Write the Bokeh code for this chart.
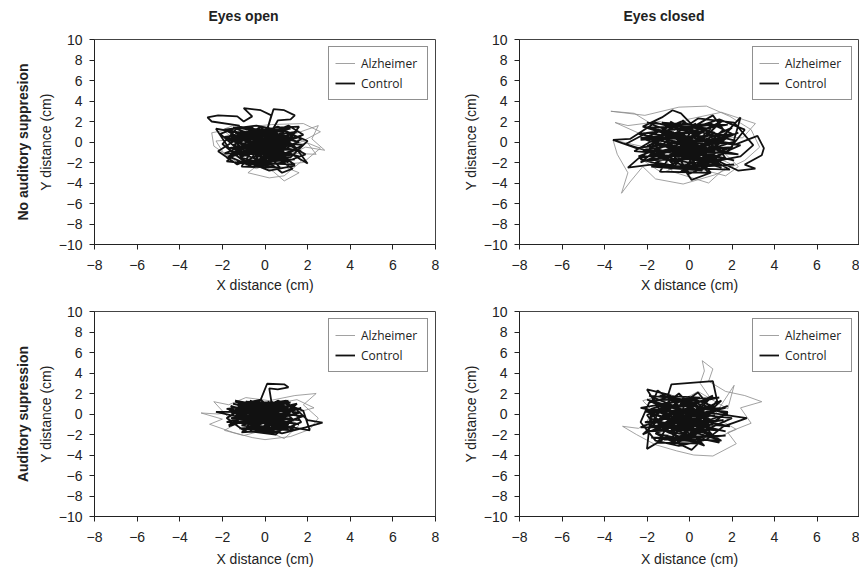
from bokeh.plotting import figure
from bokeh.models import Title, Legend, LegendItem, FixedTicker
from bokeh.layouts import column, row
from bokeh.embed import file_html
from bokeh.resources import INLINE

# ---------------- ticks / labels ----------------
x_ticks = [-8, -6, -4, -2, 0, 2, 4, 6, 8]
x_tick_labels = ["\u22128", "\u22126", "\u22124", "\u22122", "0", "2", "4", "6", "8"]
y_ticks = [-10, -8, -6, -4, -2, 0, 2, 4, 6, 8, 10]
y_tick_labels = ["\u221210", "\u22128", "\u22126", "\u22124", "\u22122", "0", "2", "4", "6", "8", "10"]
col_titles = ["Eyes open", "Eyes closed"]
row_titles = ["No auditory suppresion", "Auditory supression"]
series_names = ["Alzheimer", "Control"]
x_label = "X distance (cm)"
y_label = "Y distance (cm)"

# ---------------- traces (cm) ----------------
# Panel 1: eyes open, no auditory suppression
p1_ctrl_x = [0, 0.8, -0.5, -1.6, -0.9, 0.6, 1.5, 0.4, -1.2, -2.1, -1.4, 0.2, 1.8, 1.1, -0.3, -1.7, -0.6, 0.9, 1.9, 0.7,
             -0.8, -1.9, -0.4, 1.0, 2.0, 1.2, -0.2, -1.3, -2.2, -1.0, 0.5, 1.6, 0.9, -0.5, -1.5, -0.7, 0.3, 1.4, 0.2, -1.1,
             -2.0, -1.2, -2.5, -2.7, -2.2, -1.3, -1.0, -0.6, -1.0, -0.2, 0.3, 0.1, 0.4, 0.9, 1.4, 1.2, 0.6, 0.3,
             -0.9, -1.8, -0.4, 1.1, 2.0, 1.3, -0.1, -1.5, -2.3, -1.6, -0.3, 0.8, 1.7, 0.6, -0.8, -1.2, 0.0, 1.0,
             0.0, -1.0, 0.4, 1.3, 0.8, 0.2, -0.6, 0.5, 1.5, 0.2, -0.5, 0]
p1_ctrl_y = [0, 0.6, 1.2, 0.4, -1.0, -1.8, -0.6, 0.9, 1.5, 0.8, -0.5, -0.3, 0.7, 1.6, 0.4, -1.4, -2.4, -2.0, -1.2, 0.2,
             0.0, 1.2, 1.6, 1.0, 0.1, -1.5, -1.2, -2.2, -0.9, 0.7, 1.4, 1.5, -0.4, -0.8, 0.2, 1.1, -0.1, -2.3, -2.8, -1.7,
             -0.2, 1.6, 2.0, 2.4, 2.6, 2.5, 2.0, 2.5, 3.3, 3.1, 2.6, 1.2, 3.2, 3.1, 2.6, 2.2, 2.1, 1.0,
             -0.3, -1.9, -2.2, -1.0, -2.1, -0.2, 0.8, 1.0, 1.3, -0.9, -1.7, -0.9, 0.3, 1.5, 0.5, -1.3, -0.6, 0.4,
             1.0, -0.2, -1.4, -2.6, -3.0, -2.0, -1.0, 0.1, 1.0, 0.6, -0.4, 0]
p1_core_x = [-1.4, 1.2, -1.7, 1.5, -1.1, 1.3, -1.6, 0.9, -0.8, 1.4, -1.3, 0.4, -0.2, 1.7, -1.9, 0.6, -1.0, 1.6, -0.6, 0.2,
             -1.5, 1.1, -0.4, -1.8, 0.8, -0.3, 1.8, -1.2, 0.5, -0.7, 1.0, -1.6, 0.3, -0.9, 1.5, -0.1, -1.4, 1.2, -0.5, 0.7,
             -1.1, 0.0, 1.3, -1.7, 0.9, -0.2, -1.3, 1.6, -0.8, 0.4, -1.9, 0.1, 1.1, -0.6, 1.4, -1.0, 0.6, -1.5, 0.8, -0.3,
             1.7, -1.2, 0.2, -0.4, 1.0, -1.8, 0.5, -0.9, 1.2, 0]
p1_core_y = [0.9, 1.3, 0.1, 0.5, -0.6, -0.2, -1.2, -1.1, -2.1, -1.7, -1.9, -2.4, -0.5, -0.9, 0.5, 1.2, 1.3, 0.0, -1.5, 1.3,
             -0.3, -2.0, 0.8, -1.6, 0.6, -2.3, -0.3, 0.4, -1.6, 1.5, -0.5, 1.1, 0.2, -1.2, 1.1, -1.9, -0.9, -1.3, 0.3, -2.5,
             -2.4, 1.1, 0.4, -0.6, -0.8, 1.5, 0.0, -1.4, -0.4, -1.0, -1.1, 0.5, 1.5, -2.0, -2.2, 0.8, -0.2, 1.4, 1.0, -1.1,
             0.6, -1.5, -2.2, 0.0, -1.8, 0.3, 0.8, -0.8, 0.0, 0]
p1_alz_x = [0.2, 1.4, 2.5, 2.2, 2.8, 1.9, 0.8, -0.4, -1.3, -2.4, -2.5, -1.2, 0.3, 1.8, 2.6, 1.5, 0.1, -1.0, -1.8, -0.6,
            0.9, 1.7, 0.9, 0.2, -0.8, -0.3, 1.0, 1.6, 0.9, 0.4, -0.5, -1.9, -2.3, -1.0, 0.5, 2.0, 2.4, 1.2, -0.2, -1.5,
            -2.0, -0.8, 0.7, 1.8, 2.6, 1.4, 0.0]
p1_alz_y = [-0.2, 0.8, 1.6, 0.3, -0.8, -0.5, -1.6, -2.6, -2.0, -0.4, 0.9, 1.4, 1.7, 1.8, 1.0, -0.2, -1.1, -0.6, 0.5, 1.2,
            0.2, -1.9, -3.3, -3.5, -3.0, -2.2, -2.5, -3.0, -3.8, -2.9, -1.8, -1.2, 0.1, 0.3, -0.5, -0.1, -1.2, -1.1, 0.6, 1.6,
            1.2, -0.8, -2.2, -2.0, -0.6, 0.4, 0.2]

# Panel 2: eyes closed, no auditory suppression
p2_ctrl_x = [0, 1.2, -0.4, -1.9, -1.2, 0.5, 1.8, 2.6, 1.4, -0.2, -1.6, -2.8, -3.6, -2.5, -1.0, 0.3, 1.0, 0.1, -0.3, -1.8,
             -2.9, -2.4, -0.8, 0.7, 2.2, 3.2, 3.5, 3.4, 2.6, 3.1, 2.3, 1.4, 0.2, -1.1, -2.2, -1.3, -0.8, -0.4, 0.2, 1.1,
             1.6, 0.6, -0.9, -2.1, -3.0, -2.0, -0.5, 1.0, 2.0, 1.0, -0.9, -1.6, -0.6, 0.9, 2.4, 3.0, 2.1, 0.4, -1.1, -0.1,
             1.3, 0.3, -1.4, -2.6, -1.7, -0.3, 0.8, 1.7, 0.0, -0.6, 0.5, -0.2, -1.2, -2.3, -1.0, 0.2, 1.5, 2.4, 2.0, 0.9,
             -0.4, 0]
p2_ctrl_y = [0, 0.9, 2.0, 0.6, -1.4, -2.3, -0.9, 1.2, 2.2, 1.1, 1.9, 0.3, 0.2, -0.6, -0.2, -1.2, -3.0, -3.7, -2.5, -2.2,
             -2.5, -1.6, -0.9, 0.3, -0.2, 0.6, -0.6, -1.3, -2.2, -2.6, -2.8, -1.9, -0.5, 0.8, 1.5, 2.4, 3.1, 2.8, 1.5, 2.6,
             1.2, -0.6, -1.8, -0.8, -0.2, 0.9, 0.4, -0.8, 0.8, 1.8, 1.4, -0.3, -2.6, -2.0, -1.4, -0.3, 1.9, 2.3, 0.2, -1.6,
             -0.3, 0.7, -1.1, -0.9, 0.2, -0.2, 1.2, -1.6, -3.1, -1.3, 0.2, 1.9, 1.0, -1.7, -2.4, -1.0, 0.4, 2.4, -0.5, -1.3,
             0.5, 0]
p2_core_x = [-2.0, 1.8, -2.3, 2.2, -1.6, 2.0, -2.1, 1.3, -1.0, 2.1, -1.8, 0.6, -0.3, 2.3, -2.4, 0.8, -1.3, 2.2, -0.8, 0.3,
             -2.0, 1.5, -0.5, -2.3, 1.1, -0.4, 2.4, -1.6, 0.7, -0.9, 1.4, -2.1, 0.4, -1.2, 2.0, -0.1, -1.8, 1.6, -0.6, 0.9,
             -1.4, 0.0, 1.8, -2.2, 1.2, -0.3, -1.7, 2.1, -1.0, 0.5, -2.4, 0.1, 1.5, -0.8, 1.9, -1.3, 0.8, -2.0, 1.0, -0.4,
             2.3, -1.6, 0.3, -0.5, 1.3, -2.3, 0.6, -1.2, 1.6, 0]
p2_core_y = [1.4, 1.7, 0.2, 0.8, -1.0, -0.5, -1.8, -1.6, -2.6, -2.2, -2.4, -2.8, -0.8, -1.2, 0.8, 1.6, 1.9, 0.1, -1.9, 1.8,
             -0.4, -2.5, 1.0, -2.0, 0.8, -2.9, -0.3, 0.5, -2.0, 2.0, -0.7, 1.5, 0.3, -1.6, 1.4, -2.4, -1.2, -1.7, 0.4, -3.0,
             -2.9, 1.5, 0.5, -0.8, -1.0, 2.1, 0.0, -1.8, -0.5, -1.3, -1.4, 0.6, 2.0, -2.5, -2.7, 1.1, -0.3, 1.9, 1.3, -1.4,
             0.9, -2.0, -2.7, 0.0, -2.2, 0.4, 1.0, -1.0, 0.1, 0]
p2_alz_x = [0, -1.2, -2.6, -3.7, -2.1, -0.5, 0.8, 1.9, 2.9, 3.3, 2.6, 1.2, -0.3, -1.6, -2.2, -2.8, -3.2, -2.9, -3.4, -3.6,
            -2.3, -1.0, 0.6, 1.7, 2.3, 1.4, 0.2, -1.4, -2.9, -3.5, -2.0, -0.6, 1.0, 2.5, 3.1, 1.5, -0.1, -1.5, -0.8, 0.9,
            1.9, 0.7, -0.9, -2.4, -1.3, 0.3, 1.8, 0.3]
p2_alz_y = [0, 1.0, 2.8, 3.0, 2.6, 3.4, 3.5, 2.5, 1.2, -0.5, -1.8, -3.2, -4.1, -3.6, -2.4, -3.9, -5.0, -3.0, -1.2, 0.2,
            -0.4, -1.5, -2.7, -3.3, -2.4, -0.6, 0.9, 2.0, 1.6, 1.9, 0.5, -0.7, 0.6, 0.4, 1.8, 2.9, 2.2, -0.3, -2.9, -4.0,
            -2.1, -1.0, 0.3, -1.5, -3.0, -1.8, 1.0, 0.3]

# Panel 3: eyes open, auditory suppression
p3_ctrl_x = [0, 0.9, -0.5, -1.5, -0.8, 0.6, 1.6, 0.7, -0.9, -1.8, -1.0, 0.3, 1.4, 2.0, 2.7, 1.9, 0.8, -0.4, -1.3, -0.2,
             0.1, 0.9, 1.1, 0.6, 0.2, 0.3, 1.2, 0.2, -1.2, -1.6, -0.6, 0.8, 1.5, 0.4, -0.7, 0.5, 1.1, -0.1, -1.4, -0.3,
             1.0, 1.7, 0.9, -0.5, -1.7, -0.9, 0.5, 1.3, 0.1, -1.1, -0.3, 0.7, -0.6, -1.3, 0.0, 1.0, 2.1, 1.8, 0.6, -0.4,
             -2.3, -1.2, 0.3, 0]
p3_ctrl_y = [0, 0.8, 1.2, 0.3, -1.0, -1.4, -0.3, 1.1, 0.7, -0.4, -1.6, -0.6, 0.6, -0.6, -0.85, -1.3, -1.9, -1.2, 0.9, 1.4,
             2.95, 2.9, 2.6, 2.4, 2.5, 1.2, 0.2, -0.9, -0.5, 0.8, 0.1, -0.2, 1.0, 0.5, -1.7, -2.0, -1.0, 0.3, 1.3, 0.9,
             1.3, -0.8, -1.5, -0.4, -1.1, 0.1, 0.9, -0.5, -1.6, -1.8, -0.8, 0.3, 1.0, -0.1, -0.3, -1.2, -1.6, 0.3, 1.3, 0.2,
             0.2, -0.3, -0.5, 0]
p3_core_x = [-1.3, 1.2, -1.6, 1.4, -1.0, 1.3, -1.5, 0.9, -0.8, 1.4, -1.2, 0.4, -0.2, 1.6, -1.8, 0.6, -0.9, 1.6, -0.6, 0.2,
             -1.4, 1.1, -0.4, -1.7, 0.8, -0.3, 1.8, -1.1, 0.5, -0.7, 1.0, -1.5, 0.3, -0.9, 1.5, -0.1, -1.3, 1.2, -0.5, 0.7,
             -1.0, 0.0, 1.3, -1.6, 0.9, -0.2, -1.2, 1.6, -0.8, 0.4, -1.8, 0.1, 1.1, -0.6, 1.4, -1.0, 0.6, -1.4, 0.8, -0.3,
             1.7, -1.1, 0.2, -0.4, 1.0, -1.7, 0.5, -0.9, 1.2, 0]
p3_core_y = [0.9, 1.1, 0.1, 0.5, -0.4, -0.1, -0.9, -0.8, -1.5, -1.2, -1.4, -1.7, -0.3, -0.6, 0.5, 1.1, 1.2, 0.1, -1.1, 1.2,
             -0.2, -1.5, 0.7, -1.2, 0.6, -1.7, -0.2, 0.4, -1.2, 1.3, -0.3, 1.0, 0.2, -0.9, 1.0, -1.4, -0.7, -0.9, 0.3, -1.8,
             -1.7, 1.0, 0.4, -0.4, -0.6, 1.4, 0.0, -1.0, -0.3, -0.7, -0.8, 0.5, 1.3, -1.4, -1.6, 0.8, -0.1, 1.2, 0.9, -0.8,
             0.6, -1.1, -1.5, 0.0, -1.3, 0.3, 0.8, -0.6, 0.0, 0]
p3_alz_x = [0, -1.2, -2.2, -3.0, -2.0, -2.6, -1.5, -0.6, 0.0, 1.2, 2.1, 2.5, 1.8, 2.4, 1.4, 0.2, -0.9, -1.7, -2.4, -1.6,
            -0.3, 0.9, 1.6, 0.5, -0.8, -1.9, -1.0, 0.1, 1.2, 2.3, 1.5, 0.0, -1.4, -0.5, 0.8, 0.0]
p3_alz_y = [0, 0.3, 0.0, 0.1, -0.5, -1.0, -1.8, -2.3, -2.5, -2.2, -1.5, -0.4, 0.9, 2.0, 1.8, 1.3, 1.6, 0.9, 1.2, -0.6,
            -1.3, -2.4, -1.1, 0.4, -0.3, -1.6, -2.1, -1.5, 0.0, 0.6, 1.4, 0.8, 0.2, -0.9, -0.5, 0.0]

# Panel 4: eyes closed, auditory suppression
p4_ctrl_x = [-0.3, -1.2, -2.0, -1.5, 0.0, 1.1, 0.3, -0.9, -1.9, -2.3, -1.6, -0.5, 0.8, 1.6, 2.7, 1.0, -0.4, -1.4, -0.6, 0.7,
             1.3, 1.1, -0.85, -1.0, -2.0, -1.3, -0.1, 0.9, 0.1, -1.1, -2.0, -1.8, -0.6, 0.6, 1.8, 0.8, -0.5, -1.6, -0.8, 0.4,
             1.2, 0.0, -1.2, -1.9, -1.0, 0.2, 1.4, 0.3, -1.0, -1.9, -0.9, 0.1, 1.0, 0.4, -0.5, -1.5, -1.7, -0.4, 0.7, -0.6,
             -1.4, -0.3]
p4_ctrl_y = [-0.3, 0.7, -0.1, -1.5, -2.1, -0.9, 0.9, 1.7, 1.1, -0.8, -2.6, -3.1, -2.5, -1.2, -0.4, 0.1, 0.4, -0.7, -1.5, -0.3,
             1.3, 3.2, 2.9, 1.9, 2.4, 0.1, -0.8, -1.9, -3.5, -2.3, -3.4, 0.5, 1.3, 0.5, 0.2, -1.3, -0.5, -1.9, -2.7, -1.5,
             0.7, 1.6, 0.9, -1.3, -0.9, 0.0, -2.8, -2.3, -1.3, 0.1, 0.3, -1.2, 0.6, 2.1, 0.8, 2.3, 1.3, -0.6, -3.1, -2.1,
             -1.1, -0.3]
p4_core_x = [-1.9, 1.4, -2.1, 1.7, -1.5, 1.6, -2.0, 1.0, -1.2, 1.7, -1.8, 0.3, -0.5, 1.9, -2.3, 0.5, -1.4, 1.8, -0.9, 0.0,
             -1.9, 1.2, -0.7, -2.2, 0.8, -0.6, 2.0, -1.6, 0.4, -1.0, 1.1, -2.0, 0.1, -1.3, 1.5, -0.4, -1.8, 1.3, -0.8, 0.6,
             -1.5, -0.3, 1.4, -2.1, 0.9, -0.5, -1.7, 1.7, -1.1, 0.2, -2.3, -0.2, 1.1, -0.9, 1.5, -1.4, 0.5, -1.9, 0.7, -0.6,
             1.8, -1.6, 0.0, -0.7, 1.0, -2.1, 0.3, -1.2, 1.2, -0.3]
p4_core_y = [1.3, 1.6, 0.2, 0.6, -1.0, -0.6, -1.7, -1.5, -2.5, -2.1, -2.3, -2.7, -0.8, -1.2, 0.6, 1.6, 1.8, 0.0, -1.8, 1.7,
             -0.4, -2.4, 0.9, -2.0, 0.7, -2.8, -0.4, 0.4, -1.9, 1.9, -0.7, 1.4, 0.2, -1.5, 1.3, -2.3, -1.1, -1.6, 0.3, -2.9,
             -2.8, 1.4, 0.4, -0.8, -1.0, 2.0, 0.0, -1.7, -0.5, -1.3, -1.3, 0.5, 1.8, -2.4, -2.6, 1.0, -0.3, 1.8, 1.2, -1.3,
             0.8, -1.9, -2.6, 0.0, -2.1, 0.3, 0.9, -0.9, -0.1, -0.3]
p4_alz_x = [0, 1.0, 0.5, 0.7, 0.6, 1.1, 0.9, 1.7, 2.6, 3.4, 2.4, 2.9, 1.8, 2.2, 1.1, 0.2, -0.6, -1.6, -2.5, -3.15,
            -2.4, -1.5, -2.2, -1.0, 0.0, 1.2, 2.2, 1.0, -0.2, -1.3, -2.0, -0.8, 0.4, 1.8, 2.1, 0.9, -0.4, -1.1, 0.0]
p4_alz_y = [0, 1.5, 3.0, 4.2, 5.2, 4.4, 3.2, 2.2, 1.8, 1.2, 0.6, -0.9, -1.8, -2.9, -4.1, -4.0, -3.6, -3.0, -2.0, -1.2,
            -1.4, -0.2, 1.3, 2.0, 1.0, -0.3, -1.5, -2.6, -1.3, -2.2, -0.6, 0.8, 2.2, 0.5, 2.8, -1.0, -2.7, -0.4, 0.0]

panels = [
    dict(ctrl=(p1_ctrl_x + p1_core_x, p1_ctrl_y + p1_core_y), alz=(p1_alz_x, p1_alz_y), col=0, row=0,
         fw=341, fh=205, mbl=94, mbr=8, mbt=39, mbb=56, toff=114, xls=4),
    dict(ctrl=(p2_ctrl_x + p2_core_x, p2_ctrl_y + p2_core_y), alz=(p2_alz_x, p2_alz_y), col=1, row=0,
         fw=340, fh=205, mbl=76, mbr=0, mbt=39, mbb=56, toff=104, xls=4),
    dict(ctrl=(p3_ctrl_x + p3_core_x, p3_ctrl_y + p3_core_y), alz=(p3_alz_x, p3_alz_y), col=0, row=1,
         fw=341, fh=205, mbl=94, mbr=8, mbt=11, mbb=48, toff=0, xls=6),
    dict(ctrl=(p4_ctrl_x + p4_core_x, p4_ctrl_y + p4_core_y), alz=(p4_alz_x, p4_alz_y), col=1, row=1,
         fw=340, fh=205, mbl=76, mbr=0, mbt=11, mbb=48, toff=0, xls=6),
]

FONT = "Liberation Sans"


def make_panel(d):
    title = None
    if d["row"] == 0:
        # second (blank) line lifts the heading above the plot frame
        title = Title(text=col_titles[d["col"]] + "\n ", align="left", offset=d["toff"],
                      text_font=FONT, text_font_size="14px", text_font_style="bold",
                      text_color="#222222", standoff=0)
    p = figure(frame_width=d["fw"], frame_height=d["fh"], x_range=(-8, 8), y_range=(-10, 10),
               output_backend="svg", toolbar_location=None, title=title,
               min_border_left=d["mbl"], min_border_right=d["mbr"],
               min_border_top=d["mbt"], min_border_bottom=d["mbb"])
    p.background_fill_color = "white"
    p.border_fill_color = "white"
    p.outline_line_color = "#444444"
    p.outline_line_width = 1
    p.xgrid.visible = False
    p.ygrid.visible = False

    for ax, ticks, labels, lab in ((p.xaxis, x_ticks, x_tick_labels, x_label),
                                   (p.yaxis, y_ticks, y_tick_labels, y_label)):
        ax.ticker = FixedTicker(ticks=ticks)
        ax.major_label_overrides = {t: s for t, s in zip(ticks, labels)}
        ax.minor_tick_line_color = None
        ax.major_tick_in = 0
        ax.major_tick_out = 5
        ax.axis_line_color = "#222222"
        ax.major_tick_line_color = "#222222"
        ax.major_label_text_font = FONT
        ax.major_label_text_font_size = "14px"
        ax.major_label_text_color = "#222222"
        ax.axis_label = lab
        ax.axis_label_text_font = FONT
        ax.axis_label_text_font_size = "14px"
        ax.axis_label_text_font_style = "normal"
        ax.axis_label_text_color = "#222222"
    p.xaxis.major_label_standoff = 10
    p.xaxis.axis_label_standoff = d["xls"]
    p.yaxis.major_label_standoff = 7
    p.yaxis.axis_label_standoff = 2

    ax_, ay_ = d["alz"]
    cx_, cy_ = d["ctrl"]
    r_alz = p.line(ax_, ay_, line_color="#8a8a8a", line_width=0.8)
    r_ctrl = p.line(cx_, cy_, line_color="#111111", line_width=1.8)

    legend = Legend(items=[LegendItem(label=series_names[0], renderers=[r_alz]),
                           LegendItem(label=series_names[1], renderers=[r_ctrl])],
                    location="top_right", margin=7, padding=6, spacing=0,
                    glyph_width=20, glyph_height=20, label_height=20, label_width=60,
                    label_standoff=6, label_text_font="Open Sans", label_text_font_size="12px",
                    label_text_color="#222222", border_line_color="#222222", border_line_width=1,
                    background_fill_color="white", background_fill_alpha=1.0)
    p.add_layout(legend)

    if d["col"] == 0:
        p.add_layout(Title(text=row_titles[d["row"]], align="center", text_font=FONT,
                           text_font_size="14px", text_font_style="bold",
                           text_color="#222222", standoff=8), "left")
    return p


figs = [make_panel(d) for d in panels]
layout = column(row(figs[0], figs[1]), row(figs[2], figs[3]))

open("out.html", "w").write(file_html(layout, INLINE))
